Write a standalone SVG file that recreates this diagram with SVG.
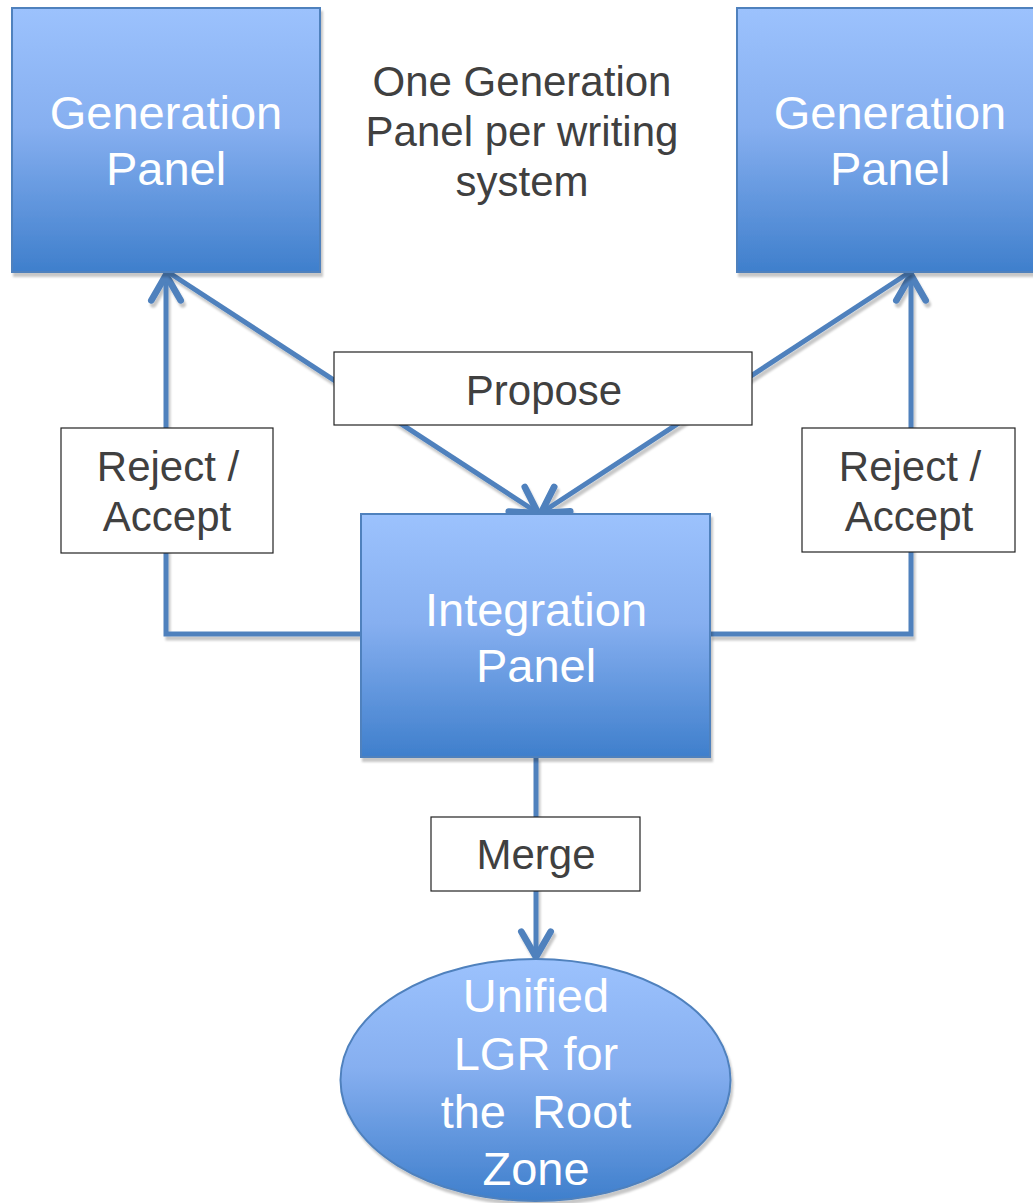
<svg xmlns="http://www.w3.org/2000/svg" width="1033" height="1203" viewBox="0 0 1033 1203">
<defs>
<linearGradient id="blue" x1="0" y1="0" x2="0" y2="1">
<stop offset="0" stop-color="#9cc2fd"/>
<stop offset="0.45" stop-color="#86aff0"/>
<stop offset="1" stop-color="#3f7fcc"/>
</linearGradient>
<filter id="sh" filterUnits="userSpaceOnUse" x="0" y="0" width="1033" height="1203">
<feDropShadow dx="2" dy="4" stdDeviation="1.2" flood-color="#000" flood-opacity="0.22"/>
</filter>
<marker id="arr" markerUnits="userSpaceOnUse" orient="auto" refX="0" refY="0" markerWidth="40" markerHeight="40" viewBox="-25 -15 30 30" overflow="visible">
<path d="M-19,-11 L0,0 L-19,11" fill="none" stroke="#4f81bd" stroke-width="5" stroke-linecap="round" stroke-linejoin="round"/>
</marker>
</defs>
<style>
.node{fill:url(#blue);stroke:#4f81bd;stroke-width:2;filter:url(#sh)}
.wt{fill:#ffffff;font-family:"Liberation Sans",Arial,sans-serif;font-size:47px;text-anchor:middle}
.lbl{fill:#ffffff;stroke:#222;stroke-width:1.2}
.gt{fill:#404040;font-family:"Liberation Sans",Arial,sans-serif;font-size:42px;text-anchor:middle}
.con{fill:none;stroke:#4f81bd;stroke-width:5;filter:url(#sh)}
</style>
<rect width="1033" height="1203" fill="#ffffff"/>

<g id="connectors">
<path class="con" d="M361,634 H166 V275" marker-end="url(#arr)"/>
<path class="con" d="M710,634 H911 V275" marker-end="url(#arr)"/>
<path class="con" d="M168,272 L538,513" marker-end="url(#arr)"/>
<path class="con" d="M910,272 L541,513" marker-end="url(#arr)"/>
<path class="con" d="M536,757 V957" marker-end="url(#arr)"/>
</g>

<g id="gen-left">
<rect class="node" x="12" y="8" width="308" height="264"/>
<text class="wt" x="166" y="129">Generation</text>
<text class="wt" x="166" y="185">Panel</text>
</g>

<g id="gen-right">
<rect class="node" x="737" y="8" width="308" height="264"/>
<text class="wt" x="890" y="129">Generation</text>
<text class="wt" x="890" y="185">Panel</text>
</g>

<g id="note">
<text class="gt" x="522" y="96">One Generation</text>
<text class="gt" x="522" y="146">Panel per writing</text>
<text class="gt" x="522" y="196">system</text>
</g>

<g id="integration">
<rect class="node" x="361" y="514" width="349" height="243"/>
<text class="wt" x="536" y="626">Integration</text>
<text class="wt" x="536" y="682">Panel</text>
</g>

<g id="unified">
<ellipse class="node" cx="535.5" cy="1080" rx="195" ry="121"/>
<text class="wt" x="536" y="1012">Unified</text>
<text class="wt" x="536" y="1070">LGR for</text>
<text class="wt" x="536" y="1128" xml:space="preserve">the  Root</text>
<text class="wt" x="536" y="1185">Zone</text>
</g>

<g id="label-propose">
<rect class="lbl" x="334" y="352" width="418" height="73"/>
<text class="gt" x="544" y="405">Propose</text>
</g>

<g id="label-reject-left">
<rect class="lbl" x="61" y="428" width="212" height="125"/>
<text class="gt" x="168" y="481">Reject /</text>
<text class="gt" x="167" y="531">Accept</text>
</g>

<g id="label-reject-right">
<rect class="lbl" x="802" y="428" width="213" height="124"/>
<text class="gt" x="910" y="481">Reject /</text>
<text class="gt" x="909" y="531">Accept</text>
</g>

<g id="label-merge">
<rect class="lbl" x="431" y="817" width="209" height="74"/>
<text class="gt" x="536" y="869">Merge</text>
</g>
</svg>
